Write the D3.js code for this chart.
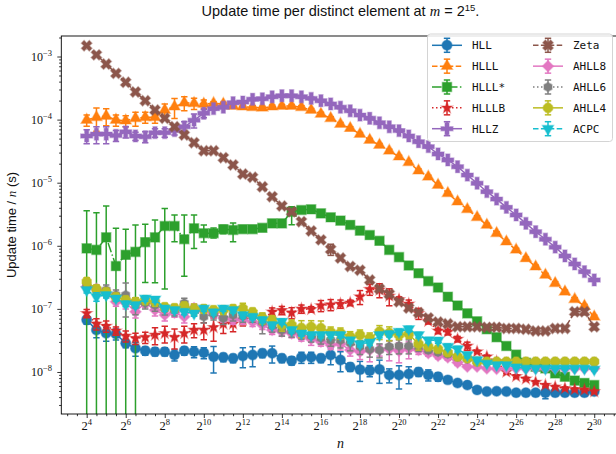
<!DOCTYPE html>
<html><head><meta charset="utf-8">
<script src="https://cdn.jsdelivr.net/npm/d3@7/dist/d3.min.js"></script>
<style>body{margin:0;background:#fff}svg{display:block}</style>
</head><body>
<script>
// ---------- data ----------
const exponents = [4,4.5,5,5.5,6,6.5,7,7.5,8,8.5,9,9.5,10,10.5,11,11.5,12,12.5,13,13.5,14,14.5,15,15.5,16,16.5,17,17.5,18,18.5,19,19.5,20,20.5,21,21.5,22,22.5,23,23.5,24,24.5,25,25.5,26,26.5,27,27.5,28,28.5,29,29.5,30];
const xTickExponents = [4,6,8,10,12,14,16,18,20,22,24,26,28,30];
const yTickExponents = [-3,-4,-5,-6,-7,-8];
const seriesNames = ["HLL","HLLL","HLLL*","HLLLB","HLLZ","Zeta","AHLL8","AHLL6","AHLL4","ACPC"];

const hll = [6.7e-8,4.63e-8,4.1e-8,4.0e-8,2.85e-8,2.37e-8,2.17e-8,2.1e-8,2.1e-8,1.86e-8,
 2.17e-8,2.1e-8,2.02e-8,1.75e-8,1.71e-8,1.65e-8,1.79e-8,1.86e-8,1.98e-8,1.98e-8,
 1.65e-8,1.51e-8,1.71e-8,1.71e-8,1.65e-8,1.86e-8,1.55e-8,1.2e-8,1.09e-8,1.05e-8,
 1.1e-8,8.96e-9,8.96e-9,9.3e-9,1.0e-8,9.0e-9,8.4e-9,7.5e-9,6.7e-9,6.2e-9,
 5.2e-9,4.9e-9,4.95e-9,4.9e-9,4.7e-9,4.7e-9,4.7e-9,4.7e-9,4.7e-9,4.7e-9,
 4.7e-9,4.7e-9,4.9e-9];
const hlll = [9.85e-5,1.09e-4,1.14e-4,9.85e-5,9.6e-5,1.05e-4,1.09e-4,1.09e-4,1.42e-4,1.6e-4,
 1.85e-4,1.81e-4,1.77e-4,1.81e-4,1.77e-4,1.64e-4,1.6e-4,1.57e-4,1.54e-4,1.6e-4,
 1.64e-4,1.64e-4,1.57e-4,1.42e-4,1.23e-4,1.05e-4,8.5e-5,7.3e-5,5.9e-5,4.75e-5,
 3.96e-5,3.2e-5,2.58e-5,2.1e-5,1.55e-5,1.24e-5,9.2e-6,6.8e-6,5.0e-6,3.79e-6,
 2.83e-6,2.14e-6,1.58e-6,1.16e-6,8.6e-7,6.3e-7,4.66e-7,3.45e-7,2.55e-7,1.87e-7,
 1.42e-7,1.11e-7,7.5e-8];
const hlllStar = [9.1e-7,8.6e-7,1.36e-6,4.78e-7,7.2e-7,8.0e-7,1.14e-6,1.36e-6,2.06e-6,2.06e-6,
 1.27e-6,1.89e-6,1.58e-6,1.58e-6,1.83e-6,1.78e-6,1.83e-6,1.83e-6,1.93e-6,2.27e-6,
 2.27e-6,3.47e-6,3.69e-6,3.79e-6,3.27e-6,2.83e-6,2.5e-6,2.14e-6,1.74e-6,1.48e-6,
 1.2e-6,8.6e-7,6.6e-7,4.87e-7,3.67e-7,2.75e-7,2.18e-7,1.56e-7,1.13e-7,8.5e-8,
 6.35e-8,4.75e-8,3.55e-8,2.58e-8,1.88e-8,1.4e-8,1.21e-8,1.14e-8,9.5e-9,8.4e-9,
 7.3e-9,6.7e-9,6.2e-9];
const hlllb = [8.5e-8,5.8e-8,5.35e-8,4.5e-8,3.72e-8,3.42e-8,3.55e-8,3.86e-8,4.1e-8,3.55e-8,
 4.1e-8,4.63e-8,4.63e-8,5.1e-8,5.8e-8,5.8e-8,6.7e-8,7.5e-8,6.7e-8,9.0e-8,
 9.5e-8,8.7e-8,1.0e-7,9.85e-8,1.13e-7,1.17e-7,1.2e-7,1.25e-7,1.56e-7,2.05e-7,
 2.0e-7,1.6e-7,1.41e-7,1.2e-7,8.5e-8,6.4e-8,4.5e-8,4.3e-8,3.33e-8,2.58e-8,
 2.1e-8,1.75e-8,1.46e-8,1.0e-8,8.55e-9,7.8e-9,6.9e-9,6.2e-9,5.8e-9,5.5e-9,
 5.3e-9,5.2e-9,4.9e-9];
const hllz = [5.5e-5,5.9e-5,5.9e-5,5.6e-5,6.4e-5,5.5e-5,5.35e-5,6.2e-5,6.2e-5,6.7e-5,
 7.7e-5,9.8e-5,1.26e-4,1.49e-4,1.57e-4,1.85e-4,1.9e-4,2.1e-4,2.14e-4,2.3e-4,
 2.39e-4,2.39e-4,2.3e-4,2.17e-4,1.99e-4,1.77e-4,1.57e-4,1.38e-4,1.18e-4,1.05e-4,
 8.9e-5,7.7e-5,6.7e-5,5.5e-5,4.46e-5,3.72e-5,2.85e-5,2.29e-5,1.79e-5,1.32e-5,
 9.8e-6,7.2e-6,5.5e-6,4.07e-6,3.08e-6,2.27e-6,1.67e-6,1.27e-6,9.5e-7,6.9e-7,
 5.15e-7,3.89e-7,2.87e-7];
const zeta = [1.48e-3,1.06e-3,7.6e-4,5.4e-4,3.9e-4,2.74e-4,1.99e-4,1.42e-4,1.05e-4,7.7e-5,
 5.7e-5,4.3e-5,3.2e-5,3.2e-5,2.49e-5,1.91e-5,1.37e-5,1.22e-5,8.6e-6,6.0e-6,
 4.27e-6,3.47e-6,2.41e-6,1.72e-6,1.24e-6,8.8e-7,6.4e-7,4.7e-7,4.1e-7,2.87e-7,
 2.08e-7,1.72e-7,1.29e-7,1.03e-7,8.7e-8,7.2e-8,6.2e-8,5.8e-8,5.2e-8,5.2e-8,
 5.2e-8,5.1e-8,5.1e-8,4.9e-8,4.9e-8,4.75e-8,4.46e-8,4.46e-8,4.9e-8,4.9e-8,
 9.0e-8,9.0e-8,5.2e-8];
const ahll8 = [2.25e-7,2.07e-7,1.79e-7,1.3e-7,1.24e-7,9.0e-8,1.24e-7,9.6e-8,8.0e-8,8.7e-8,
 7.5e-8,1.03e-7,9.3e-8,8.5e-8,7.2e-8,6.7e-8,6.7e-8,6.2e-8,5.55e-8,4.63e-8,
 4.35e-8,4.1e-8,3.63e-8,3.3e-8,3.02e-8,2.68e-8,2.78e-8,2.23e-8,2.1e-8,2.23e-8,
 2.23e-8,2.31e-8,2.15e-8,2.31e-8,2.23e-8,1.98e-8,1.8e-8,1.7e-8,1.41e-8,1.21e-8,
 1.21e-8,1.14e-8,1.12e-8,1.14e-8,1.14e-8,1.14e-8,1.14e-8,1.14e-8,1.14e-8,1.14e-8,
 1.14e-8,1.14e-8,1.14e-8];
const ahll6 = [2.39e-7,1.99e-7,1.99e-7,1.66e-7,1.66e-7,1.15e-7,1.24e-7,1.15e-7,1.0e-7,9.6e-8,
 1.23e-7,9.6e-8,7.5e-8,8.3e-8,7.1e-8,8.0e-8,7.7e-8,7.7e-8,6.2e-8,5.35e-8,
 4.63e-8,4.46e-8,4.15e-8,3.72e-8,3.46e-8,3.2e-8,3.2e-8,2.88e-8,2.52e-8,2.29e-8,
 2.23e-8,2.52e-8,2.58e-8,2.58e-8,2.49e-8,2.23e-8,2.07e-8,1.93e-8,1.73e-8,1.61e-8,
 1.46e-8,1.46e-8,1.46e-8,1.46e-8,1.46e-8,1.46e-8,1.46e-8,1.46e-8,1.46e-8,1.46e-8,
 1.46e-8,1.46e-8,1.46e-8];
const ahll4 = [2.7e-7,2.07e-7,1.85e-7,1.54e-7,1.38e-7,1.3e-7,1.38e-7,1.29e-7,1.07e-7,1.03e-7,
 1.11e-7,1.0e-7,1.0e-7,9.6e-8,9.6e-8,1.0e-7,1.02e-7,8.9e-8,7.2e-8,6.7e-8,
 5.55e-8,5.55e-8,5.0e-8,5.2e-8,4.95e-8,4.3e-8,4.15e-8,3.63e-8,3.86e-8,3.46e-8,
 4.35e-8,4.15e-8,3.86e-8,4.0e-8,2.78e-8,2.52e-8,2.31e-8,2.04e-8,1.75e-8,1.65e-8,
 1.46e-8,1.46e-8,1.46e-8,1.46e-8,1.46e-8,1.46e-8,1.46e-8,1.46e-8,1.46e-8,1.46e-8,
 1.46e-8,1.46e-8,1.46e-8];
const acpc = [1.99e-7,1.56e-7,1.66e-7,1.47e-7,1.2e-7,1.15e-7,1.47e-7,1.42e-7,1.02e-7,9.6e-8,
 9.0e-8,8.5e-8,1.02e-7,8.9e-8,1.02e-7,9.6e-8,8.0e-8,7.5e-8,6.7e-8,5.55e-8,
 6.3e-8,4.63e-8,4.1e-8,3.86e-8,3.86e-8,3.86e-8,3.86e-8,3.2e-8,2.78e-8,2.93e-8,
 3.86e-8,4.0e-8,4.35e-8,4.8e-8,3.86e-8,3.2e-8,3.17e-8,2.52e-8,2.31e-8,1.86e-8,
 1.55e-8,1.37e-8,1.29e-8,1.29e-8,1.19e-8,1.14e-8,1.14e-8,1.14e-8,1.14e-8,1.14e-8,
 1.14e-8,1.14e-8,1.1e-8];

// relative error bars (upper / lower as a fraction of the value)
const errHLL = [0.15,0.25,0.25,0.2,0.15,0.25,0.15,0.15,0.15,0.2, 0.15,0.2,0.2,0.45,0.15,0.15,0.35,0.35,0.15,0.3,
 0.15,0.15,0.2,0.2,0.15,0.3,0.35,0.15,0.35,0.2, 0.4,0.25,0.4,0.3,0.15,0.2,0.15,0.1,0.1,0.1,
 0.1,0.1,0.1,0.1,0.1,0.1,0.1,0.2,0.1,0.1, 0.1,0.1,0.1];
const errHLLL = [0.2,0.4,0.3,0.2,0.2,0.25,0.2,0.2,0.25,0.35, 0.25,0.2,0.15,0.06,0.06,0.06,0.06,0.06,0.06,0.06,
 0.06,0.06,0.06,0.06,0.06,0.06,0.06,0.06,0.06,0.06, 0.06,0.06,0.06,0.06,0.06,0.06,0.06,0.06,0.06,0.06,
 0.06,0.06,0.06,0.06,0.06,0.06,0.06,0.06,0.06,0.06, 0.06,0.06,0.06];
const errHLLLStarHi = [2.96,2.9,2.14,2.95,1.54,1.68,0.93,0.88,0.89,0.5, 1.43,0.63,0.35,0.21,0.15,0.29,0.1,0.1,0.1,0.1,
 0.1,0.2,0.04,0.04,0.04,0.04,0.04,0.04,0.04,0.04, 0.04,0.04,0.04,0.04,0.04,0.04,0.04,0.04,0.04,0.04,
 0.04,0.04,0.04,0.04,0.04,0.04,0.04,0.04,0.04,0.04, 0.04,0.04,0.04];
const errHLLLStarLo = [1,1,1,1,1,1,0.77,0.81,0.9,0.44, 0.74,0.52,0.27,0.16,0.15,0.35,0.1,0.1,0.1,0.1,
 0.1,0.38,0.04,0.04,0.04,0.04,0.04,0.04,0.04,0.04, 0.04,0.04,0.04,0.04,0.04,0.04,0.04,0.04,0.04,0.04,
 0.04,0.04,0.04,0.04,0.04,0.04,0.04,0.04,0.04,0.04, 0.04,0.04,0.04];
const errHLLLB = [0.15,0.2,0.2,0.15,0.2,0.2,0.2,0.3,0.3,0.35, 0.3,0.25,0.3,0.4,0.3,0.25,0.2,0.2,0.2,0.15,
 0.15,0.2,0.15,0.1,0.2,0.2,0.15,0.1,0.25,0.2, 0.25,0.3,0.1,0.15,0.2,0.1,0.1,0.1,0.1,0.15,
 0.05,0.05,0.05,0.05,0.05,0.05,0.05,0.05,0.05,0.05, 0.05,0.05,0.05];
const errHLLZ = [0.25,0.3,0.3,0.2,0.2,0.15,0.2,0.15,0.15,0.15, 0.2,0.25,0.15,0.05,0.05,0.05,0.05,0.05,0.05,0.05,
 0.05,0.05,0.05,0.05,0.05,0.05,0.05,0.05,0.05,0.05, 0.05,0.05,0.05,0.05,0.05,0.05,0.05,0.05,0.05,0.05,
 0.05,0.05,0.05,0.05,0.05,0.05,0.05,0.05,0.05,0.05, 0.05,0.05,0.05];
const errZeta = [0.05,0.05,0.05,0.05,0.05,0.05,0.05,0.05,0.05,0.05, 0.05,0.05,0.05,0.05,0.05,0.05,0.05,0.05,0.05,0.05,
 0.05,0.05,0.05,0.05,0.05,0.2,0.05,0.05,0.05,0.05, 0.05,0.05,0.05,0.05,0.05,0.05,0.05,0.05,0.05,0.05,
 0.05,0.05,0.05,0.05,0.05,0.05,0.05,0.05,0.05,0.05, 0.1,0.1,0.1];
const errAHLL8 = [0.15,0.15,0.15,0.15,0.2,0.2,0.15,0.2,0.2,0.15, 0.2,0.15,0.2,0.15,0.15,0.15,0.15,0.15,0.15,0.15,
 0.15,0.15,0.15,0.2,0.15,0.15,0.2,0.2,0.25,0.35, 0.2,0.35,0.35,0.3,0.15,0.1,0.1,0.1,0.1,0.05,
 0.05,0.05,0.05,0.05,0.05,0.05,0.05,0.05,0.05,0.05, 0.05,0.05,0.05];
const errAHLL6 = [0.15,0.15,0.2,0.2,0.55,0.3,0.2,0.2,0.2,0.2, 0.2,0.2,0.2,0.2,0.2,0.2,0.2,0.2,0.35,0.2,
 0.2,0.2,0.2,0.2,0.2,0.2,0.25,0.25,0.25,0.25, 0.25,0.25,0.25,0.25,0.15,0.1,0.1,0.1,0.1,0.05,
 0.05,0.05,0.05,0.05,0.05,0.05,0.05,0.05,0.05,0.05, 0.05,0.05,0.05];
const errAHLL4 = [0.15,0.15,0.15,0.15,0.15,0.15,0.15,0.15,0.15,0.15, 0.15,0.2,0.15,0.15,0.15,0.15,0.2,0.15,0.2,0.15,
 0.2,0.2,0.3,0.25,0.3,0.2,0.2,0.2,0.2,0.2, 0.25,0.25,0.15,0.15,0.2,0.1,0.1,0.1,0.05,0.05,
 0.05,0.05,0.05,0.05,0.05,0.05,0.05,0.05,0.05,0.05, 0.05,0.05,0.05];
const errACPC = [0.1,0.15,0.1,0.1,0.1,0.1,0.1,0.1,0.1,0.1, 0.1,0.1,0.1,0.1,0.1,0.1,0.1,0.1,0.1,0.1,
 0.1,0.1,0.1,0.1,0.1,0.1,0.1,0.1,0.1,0.1, 0.1,0.1,0.1,0.1,0.1,0.1,0.1,0.1,0.1,0.1,
 0.05,0.05,0.05,0.05,0.05,0.05,0.05,0.05,0.05,0.05, 0.05,0.05,0.05];

// ---------- style ----------
const styles = [
  {values:hll,      hi:errHLL,        lo:errHLL,        color:"#1f77b4", marker:"circle",  dash:null},
  {values:hlll,     hi:errHLLL,       lo:errHLLL,       color:"#ff7f0e", marker:"triUp",   dash:"5.5,2.4"},
  {values:hlllStar, hi:errHLLLStarHi, lo:errHLLLStarLo, color:"#2ca02c", marker:"square",  dash:"9.6,2.4,1.5,2.4"},
  {values:hlllb,    hi:errHLLLB,      lo:errHLLLB,      color:"#d62728", marker:"star",    dash:"1.5,2.5"},
  {values:hllz,     hi:errHLLZ,       lo:errHLLZ,       color:"#9467bd", marker:"plus",    dash:null},
  {values:zeta,     hi:errZeta,       lo:errZeta,       color:"#8c564b", marker:"x",       dash:"5.5,2.4"},
  {values:ahll8,    hi:errAHLL8,      lo:errAHLL8,      color:"#e377c2", marker:"diamond", dash:null},
  {values:ahll6,    hi:errAHLL6,      lo:errAHLL6,      color:"#7f7f7f", marker:"hex",     dash:"1.5,2.5"},
  {values:ahll4,    hi:errAHLL4,      lo:errAHLL4,      color:"#bcbd22", marker:"octagon", dash:null},
  {values:acpc,     hi:errACPC,       lo:errACPC,       color:"#17becf", marker:"triDown", dash:"5.5,2.4"}
];

const W = 616, H = 454;
const P = {left: 61.3, right: 619.6, top: 36, bottom: 414};
const svg = d3.select("body").append("svg").attr("width", W).attr("height", H)
  .style("font-family", "'Liberation Sans', sans-serif");

const x = d3.scaleLog().base(2).domain([Math.pow(2, 2.7), Math.pow(2, 31.3)]).range([P.left, P.right]);
const y = d3.scaleLog().domain([Math.pow(10, -8.666), Math.pow(10, -2.675)]).range([P.bottom, P.top]);
const ns = exponents.map(e => Math.pow(2, e));

svg.append("defs").append("clipPath").attr("id", "clip")
  .append("rect").attr("x", P.left).attr("y", P.top).attr("width", P.right - P.left).attr("height", P.bottom - P.top);

function polygon(n, r, rot) {
  const pts = d3.range(n).map(i => {
    const a = rot + i * 2 * Math.PI / n;
    return [r * Math.sin(a), -r * Math.cos(a)];
  });
  return "M" + pts.map(p => p[0].toFixed(2) + "," + p[1].toFixed(2)).join("L") + "Z";
}
function starPath(ro, ri) {
  const pts = [];
  for (let i = 0; i < 10; i++) {
    const r = i % 2 === 0 ? ro : ri, a = i * Math.PI / 5;
    pts.push([r * Math.sin(a), -r * Math.cos(a)]);
  }
  return "M" + pts.map(p => p[0].toFixed(2) + "," + p[1].toFixed(2)).join("L") + "Z";
}
function markerPath(m) {
  switch (m) {
    case "circle": return d3.symbol().type(d3.symbolCircle).size(78)();
    case "octagon": return polygon(8, 5.0, Math.PI / 8);
    case "triUp": return polygon(3, 6.4, 0);
    case "triDown": return polygon(3, 6.4, Math.PI);
    case "square": return d3.symbol().type(d3.symbolSquare).size(85)();
    case "star": return starPath(5.6, 2.4);
    case "plus": return d3.symbol().type(d3.symbolCross).size(78)();
    case "x": return d3.symbol().type(d3.symbolCross).size(68)();
    case "diamond": return polygon(4, 5.6, 0);
    case "hex": return polygon(6, 4.6, 0);
  }
}
function markerRotate(m) { return m === "x" ? 45 : 0; }

// ---------- axes ----------
const gx = svg.append("g").attr("transform", `translate(0,${P.bottom})`);
gx.call(d3.axisBottom(x).tickValues(xTickExponents.map(e => Math.pow(2, e))).tickSize(4).tickFormat(() => ""));
const gxm = svg.append("g").attr("transform", `translate(0,${P.bottom})`);
const minorX = exponents.filter(e => !xTickExponents.includes(e)).concat([3, 3.5, 30.5, 31]);
gxm.call(d3.axisBottom(x).tickValues(minorX.map(e => Math.pow(2, e))).tickSize(2.2).tickFormat(() => ""));
[gx, gxm].forEach(g => { g.select(".domain").remove(); g.selectAll("line").attr("stroke", "#000").attr("stroke-width", 0.8); });

xTickExponents.forEach(e => {
  const t = svg.append("text").attr("x", x(Math.pow(2, e))).attr("y", 430).attr("text-anchor", "middle")
    .style("font-family", "'Liberation Serif', serif").style("font-size", "12.5px").attr("fill", "#111");
  t.append("tspan").text("2");
  t.append("tspan").attr("dy", -5).style("font-size", "8.5px").text(String(e));
});

const gy = svg.append("g").attr("transform", `translate(${P.left},0)`);
gy.call(d3.axisLeft(y).tickValues(yTickExponents.map(e => Math.pow(10, e))).tickSize(4).tickFormat(() => ""));
const minorY = [];
for (let k = -9; k <= -3; k++) for (let m = 2; m <= 9; m++) {
  const v = m * Math.pow(10, k);
  if (v >= y.domain()[0] && v <= y.domain()[1]) minorY.push(v);
}
const gym = svg.append("g").attr("transform", `translate(${P.left},0)`);
gym.call(d3.axisLeft(y).tickValues(minorY).tickSize(2.2).tickFormat(() => ""));
[gy, gym].forEach(g => { g.select(".domain").remove(); g.selectAll("line").attr("stroke", "#000").attr("stroke-width", 0.8); });

yTickExponents.forEach(e => {
  const t = svg.append("text").attr("x", 52).attr("y", y(Math.pow(10, e)) + 4).attr("text-anchor", "end")
    .style("font-family", "'Liberation Serif', serif").style("font-size", "12px").attr("fill", "#111");
  t.append("tspan").text("10");
  t.append("tspan").attr("dy", -5).style("font-size", "8.5px").text("\u2212" + String(-e));
});

// ---------- series ----------
const plotG = svg.append("g").attr("clip-path", "url(#clip)");
styles.forEach((s, si) => {
  const g = plotG.append("g");
  const pts = s.values.map((v, i) => ({n: ns[i], v, hi: v * (1 + s.hi[i]), lo: v * (1 - s.lo[i])}));
  // error bars
  pts.forEach(p => {
    const yTop = y(p.hi);
    const yBot = p.lo > 0 ? y(p.lo) : P.bottom + 20;
    const xx = x(p.n);
    g.append("line").attr("x1", xx).attr("x2", xx).attr("y1", yTop).attr("y2", yBot)
      .attr("stroke", s.color).attr("stroke-width", 1.5);
    g.append("line").attr("x1", xx - 3.2).attr("x2", xx + 3.2).attr("y1", yTop).attr("y2", yTop)
      .attr("stroke", s.color).attr("stroke-width", 1.5);
    if (p.lo > 0) g.append("line").attr("x1", xx - 3.2).attr("x2", xx + 3.2).attr("y1", yBot).attr("y2", yBot)
      .attr("stroke", s.color).attr("stroke-width", 1.5);
  });
  // line
  const line = d3.line().x(d => x(d.n)).y(d => y(d.v));
  g.append("path").attr("d", line(pts)).attr("fill", "none").attr("stroke", s.color)
    .attr("stroke-width", 1.5).attr("stroke-dasharray", s.dash);
  // markers
  const mp = markerPath(s.marker);
  g.selectAll("path.mk").data(pts).join("path").attr("class", "mk")
    .attr("d", mp)
    .attr("transform", d => `translate(${x(d.n)},${y(d.v)}) rotate(${markerRotate(s.marker)})`)
    .attr("fill", s.color).attr("stroke", s.color).attr("stroke-opacity", 0.45).attr("stroke-width", 1.4);
});

// frame
svg.append("rect").attr("x", P.left).attr("y", P.top).attr("width", P.right - P.left).attr("height", P.bottom - P.top)
  .attr("fill", "none").attr("stroke", "#000").attr("stroke-width", 0.9);

// ---------- legend ----------
const lg = svg.append("g");
lg.append("rect").attr("x", 427.5).attr("y", 34).attr("width", 185).attr("height", 107.5).attr("rx", 3)
  .attr("fill", "#fff").attr("fill-opacity", 0.85).attr("stroke", "#cfcfcf").attr("stroke-width", 0.9);
styles.forEach((s, i) => {
  const col = Math.floor(i / 5), row = i % 5;
  const x0 = col === 0 ? 432 : 533;
  const cy = 45.3 + row * 20.85;
  const cx = x0 + 15;
  const g = lg.append("g");
  g.append("line").attr("x1", x0).attr("x2", x0 + 30).attr("y1", cy).attr("y2", cy)
    .attr("stroke", s.color).attr("stroke-width", 1.5).attr("stroke-dasharray", s.dash);
  g.append("line").attr("x1", cx).attr("x2", cx).attr("y1", cy - 7).attr("y2", cy + 7).attr("stroke", s.color).attr("stroke-width", 1.5);
  [cy - 7, cy + 7].forEach(yy => g.append("line").attr("x1", cx - 3.2).attr("x2", cx + 3.2).attr("y1", yy).attr("y2", yy)
    .attr("stroke", s.color).attr("stroke-width", 1.5));
  g.append("path").attr("d", markerPath(s.marker))
    .attr("transform", `translate(${cx},${cy}) rotate(${markerRotate(s.marker)})`)
    .attr("fill", s.color).attr("stroke", s.color).attr("stroke-opacity", 0.45).attr("stroke-width", 1.4);
  g.append("text").attr("x", x0 + 40).attr("y", cy + 4).text(seriesNames[i])
    .style("font-family", "'DejaVu Sans Mono', monospace").style("font-size", "11px").attr("fill", "#111");
});

// ---------- titles ----------
const title = svg.append("text").attr("x", (P.left + P.right) / 2).attr("y", 16).attr("text-anchor", "middle")
  .style("font-size", "14.5px").attr("fill", "#111");
title.append("tspan").text("Update time per distinct element at ");
title.append("tspan").style("font-family", "'Liberation Serif', serif").style("font-style", "italic").text("m");
title.append("tspan").text(" = 2");
title.append("tspan").attr("dy", -5).style("font-size", "9.5px").text("15");
title.append("tspan").attr("dy", 5).text(".");

svg.append("text").attr("x", (P.left + P.right) / 2).attr("y", 448).attr("text-anchor", "middle")
  .style("font-family", "'Liberation Serif', serif").style("font-style", "italic").style("font-size", "14px").attr("fill", "#111").text("n");

const yl = svg.append("text").attr("transform", `translate(16,${(P.top + P.bottom) / 2}) rotate(-90)`)
  .attr("text-anchor", "middle").style("font-size", "13px").attr("fill", "#111");
yl.append("tspan").text("Update time / ");
yl.append("tspan").style("font-family", "'Liberation Serif', serif").style("font-style", "italic").text("n");
yl.append("tspan").text(" (s)");
</script>
</body></html>
